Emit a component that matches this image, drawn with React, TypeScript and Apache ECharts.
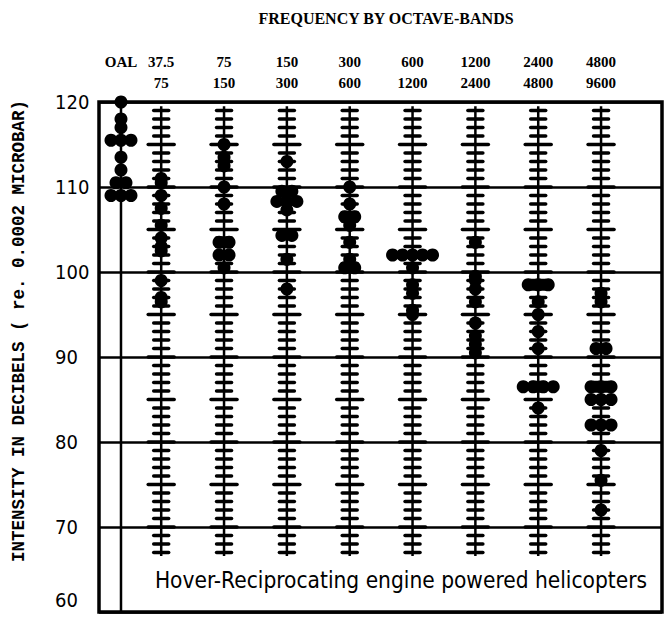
import React, { useEffect, useRef } from "react";
import * as echarts from "echarts";

// ---------- data ----------
const bandTop = ["OAL", "37.5", "75", "150", "300", "600", "1200", "2400", "4800"];
const bandBottom = ["", "75", "150", "300", "600", "1200", "2400", "4800", "9600"];
const yTicks = [60, 70, 80, 90, 100, 110, 120];

const dbOAL = [120, 118, 117, 115.5, 115.5, 115.5, 113.5, 112, 110.5, 110.5, 109, 109, 109];
const db37 = [111, 110.5, 109, 107.5, 105.5, 104, 103, 102.5, 99, 97, 96.5];
const db75 = [115, 113.5, 112.5, 110, 108, 103.5, 103.5, 102, 102, 100.5];
const db150 = [113, 109.5, 109.5, 108.3, 108.3, 108.3, 107.3, 104.3, 104.3, 101.5, 98];
const db300 = [110, 108, 106.5, 106.5, 105.5, 103.5, 101.5, 100.5, 100.5];
const db600 = [102, 102, 102, 102, 102, 100.5, 98.5, 97.5, 95.5, 95];
const db1200 = [103.5, 99.5, 99, 98, 96.5, 94, 92.5, 91.5, 90.5];
const db2400 = [98.5, 98.5, 98.5, 96.5, 95, 93, 91, 86.5, 86.5, 86.5, 86.5, 84];
const db4800 = [97.5, 96.5, 91, 91, 86.5, 86.5, 86.5, 85, 85, 85, 82, 82, 82, 79, 75.5, 72];

const columns = [dbOAL, db37, db75, db150, db300, db600, db1200, db2400, db4800];

const title = "FREQUENCY BY OCTAVE-BANDS";
const yTitle = "INTENSITY IN DECIBELS ( re. 0.0002 MICROBAR)";
const note = "Hover-Reciprocating engine powered helicopters";

// ---------- layout ----------
const columnX = [0.36, 1, 2, 3, 4, 5, 6, 7, 8];
const LADDER_LO = 67;
const LADDER_HI = 119;
const DOT_SPREAD = 10;
const NARROW = "'Liberation Sans Narrow', 'DejaVu Sans Condensed', 'Roboto', sans-serif";

export default function App() {
  const ref = useRef<HTMLDivElement>(null);

  useEffect(() => {
    if (!ref.current) return;
    const chart = echarts.init(ref.current, null, { renderer: "svg" });

    const dots: any[] = [];
    columns.forEach((vals, c) => {
      const counts = new Map<number, number>();
      vals.forEach((v) => counts.set(v, (counts.get(v) || 0) + 1));
      const seen = new Map<number, number>();
      vals.forEach((v) => {
        const n = counts.get(v)!;
        const i = seen.get(v) || 0;
        seen.set(v, i + 1);
        dots.push({
          value: [columnX[c], v],
          symbolOffset: [(i - (n - 1) / 2) * DOT_SPREAD, 0],
        });
      });
    });

    const ladderData = columnX.slice(1).map((x) => [x]);
    const lowest = yTicks[0];

    chart.setOption({
      animation: false,
      grid: {
        left: 99,
        right: 5,
        top: 102,
        bottom: 5,
        show: true,
        borderColor: "#000",
        borderWidth: 3.5,
        backgroundColor: "transparent",
      },
      xAxis: {
        type: "value",
        min: 0.01,
        max: 8.97,
        show: false,
      },
      yAxis: {
        type: "value",
        min: 60,
        max: 120,
        interval: 10,
        axisLine: { show: false },
        axisTick: { show: false },
        splitLine: { show: true, lineStyle: { color: "#000", width: 2.5 } },
        axisLabel: {
          margin: 44,
          align: "left",
          color: "#000",
          fontFamily: NARROW,
          fontSize: 20,
          padding: [0, 0, 4, 0],
          customValues: yTicks.slice(1),
        },
      },
      series: [
        {
          type: "line",
          data: [
            [columnX[0], 60],
            [columnX[0], 120],
          ],
          symbol: "none",
          lineStyle: { color: "#000", width: 2.5 },
          z: 2,
        },
        {
          type: "custom",
          data: ladderData,
          dimensions: ["x"],
          encode: { x: 0 },
          renderItem: (params: any, api: any) => {
            const x = api.value(0);
            const top = api.coord([x, LADDER_HI + 0.5]);
            const bot = api.coord([x, LADDER_LO - 0.4]);
            const children: any[] = [
              {
                type: "line",
                shape: { x1: top[0], y1: top[1], x2: bot[0], y2: bot[1] },
                style: { stroke: "#000", lineWidth: 2.5 },
              },
            ];
            for (let d = LADDER_LO; d <= LADDER_HI; d++) {
              const p = api.coord([x, d]);
              const half = d % 5 === 0 ? 13 : 7.5;
              children.push({
                type: "line",
                shape: { x1: p[0] - half, y1: p[1], x2: p[0] + half, y2: p[1] },
                style: { stroke: "#000", lineWidth: 3.5, lineCap: "round" },
              });
            }
            return { type: "group", children };
          },
          z: 3,
        },
        {
          type: "scatter",
          data: dots,
          symbol: "circle",
          symbolSize: 13,
          itemStyle: { color: "#000", opacity: 1 },
          z: 4,
        },
      ],
    });

    const px = (x: number, y: number) =>
      chart.convertToPixel({ xAxisIndex: 0, yAxisIndex: 0 }, [x, y]) as number[];

    const lowPos = px(columnX[0], lowest);
    const graphics: any[] = [
      {
        type: "text",
        x: 55,
        y: lowPos[1] - 2,
        style: {
          text: String(lowest),
          fill: "#000",
          font: `20px ${NARROW}`,
          align: "left",
          verticalAlign: "bottom",
        },
      },
      {
        type: "text",
        x: 386,
        y: 18,
        style: {
          text: title,
          fill: "#000",
          font: "bold 16px 'Liberation Serif', serif",
          align: "center",
          verticalAlign: "middle",
        },
      },
      {
        type: "text",
        x: 19,
        y: 331,
        rotation: Math.PI / 2,
        style: {
          text: yTitle,
          fill: "#000",
          font: "bold 17.5px 'Liberation Mono', monospace",
          align: "center",
          verticalAlign: "middle",
        },
      },
      {
        type: "text",
        x: 401,
        y: 580,
        style: {
          text: note,
          fill: "#000",
          font: "22.5px 'DejaVu Sans Condensed', 'DejaVu Sans', sans-serif",
          align: "center",
          verticalAlign: "middle",
        },
      },
    ];
    columnX.forEach((x, i) => {
      const p = px(x, 120);
      graphics.push({
        type: "text",
        x: p[0],
        y: 62,
        style: {
          text: bandTop[i],
          fill: "#000",
          font: "bold 15px 'Liberation Serif', serif",
          align: "center",
          verticalAlign: "middle",
        },
      });
      if (bandBottom[i]) {
        graphics.push({
          type: "text",
          x: p[0],
          y: 83,
          style: {
            text: bandBottom[i],
            fill: "#000",
            font: "bold 15px 'Liberation Serif', serif",
            align: "center",
            verticalAlign: "middle",
          },
        });
      }
    });
    chart.setOption({ graphic: graphics });

    return () => chart.dispose();
  }, []);

  return <div ref={ref} style={{ width: 667, height: 617, position: "absolute", left: 0, top: 0 }} />;
}
